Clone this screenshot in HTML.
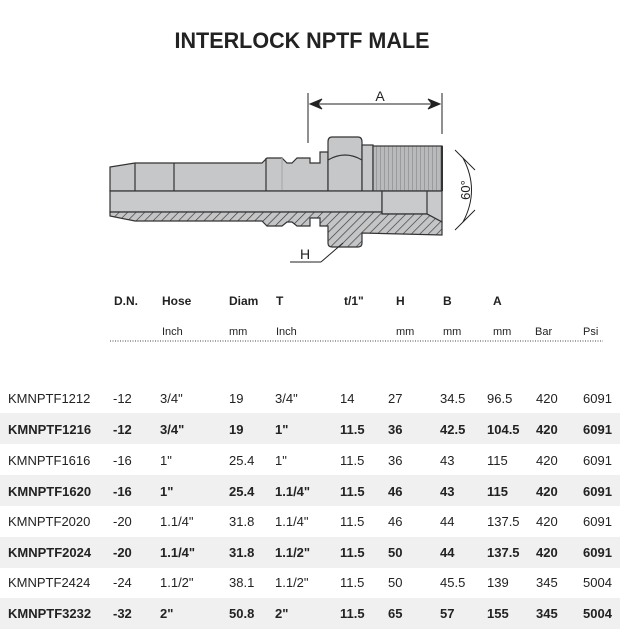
<!DOCTYPE html>
<html><head><meta charset="utf-8"><style>
html,body{margin:0;padding:0;background:#fff;}
svg{display:block;}
text{font-family:"Liberation Sans",sans-serif;fill:#222;}
</style></head><body>
<svg width="640" height="640" viewBox="0 0 640 640" xmlns="http://www.w3.org/2000/svg">
<defs>
<pattern id="hatch" patternUnits="userSpaceOnUse" width="6" height="6" patternTransform="rotate(45)">
<rect width="6" height="6" fill="#c4c5c7"/><line x1="0" y1="0" x2="0" y2="6" stroke="#333" stroke-width="1.3"/>
</pattern>
<pattern id="thr" patternUnits="userSpaceOnUse" width="4" height="10">
<rect width="4" height="10" fill="#b9babc"/><line x1="0.5" y1="0" x2="0.5" y2="10" stroke="#9a9b9d" stroke-width="1"/>
</pattern>
</defs>
<text x="302" y="48" font-size="22" font-weight="bold" text-anchor="middle" textLength="255" lengthAdjust="spacingAndGlyphs">INTERLOCK NPTF MALE</text>

<!-- drawing -->
<g stroke="#333" stroke-width="1.2">
<!-- upper body -->
<path d="M110,167 L135,163 L262,163 L267,158 L282,158 L287,163 L292,163 L297,158 L310,158 L310,163 L320,163 L320,152 L328,152 L328,191 L110,191 Z" fill="#c6c7c9"/>
<line x1="135" y1="163" x2="135" y2="191"/>
<line x1="174" y1="163" x2="174" y2="191"/>
<line x1="266" y1="158" x2="266" y2="191"/>
<line x1="282" y1="158" x2="282" y2="191" stroke="#aaa"/>
<!-- hex -->
<path d="M332,137 L358,137 Q362,137 362,142 L362,191 L328,191 L328,142 Q328,137 332,137 Z" fill="#c6c7c9"/>
<path d="M328,160 Q345,150 362,160" fill="none"/>
<!-- thread -->
<rect x="362" y="145" width="11" height="46" fill="#c6c7c9"/>
<rect x="373" y="146" width="69" height="45" fill="url(#thr)"/>
<line x1="442" y1="146" x2="442" y2="191" stroke-width="2"/>
<!-- bore -->
<rect x="110" y="191" width="272" height="21" fill="#c9cacc"/>
<path d="M382,191 L442,191 L442,222 L427,214 L382,214 Z" fill="#c9cacc"/>
<line x1="427" y1="191" x2="427" y2="214"/>
<!-- hatched section -->
<path d="M110,212 L382,212 L382,214 L427,214 L442,222 L442,235 L362,233 L362,243 Q362,247 358,247 L332,247 Q328,247 328,243 L328,226 L320,226 L320,218 L310,218 L310,226 L297,226 L292,222 L287,222 L282,226 L267,226 L262,221 L135,221 L110,216 Z" fill="url(#hatch)"/>
</g>
<!-- dimension A -->
<g stroke="#222" stroke-width="1">
<line x1="308" y1="93" x2="308" y2="143"/>
<line x1="442" y1="93" x2="442" y2="134"/>
<line x1="310" y1="104" x2="440" y2="104"/>
<path d="M310,104 L322,99 L318,104 L322,109 Z" fill="#222"/>
<path d="M440,104 L428,99 L432,104 L428,109 Z" fill="#222"/>
<path d="M463,158 Q480,190 463,222" fill="none"/>
<line x1="455" y1="150" x2="475" y2="170"/>
<line x1="455" y1="230" x2="475" y2="210"/>
<line x1="343" y1="243" x2="321" y2="262"/>
<line x1="321" y1="262" x2="290" y2="262"/>
</g>
<text x="380" y="101" font-size="14" text-anchor="middle">A</text>
<text x="305" y="259" font-size="14" text-anchor="middle">H</text>
<text transform="translate(470,190) rotate(-90)" font-size="13" text-anchor="middle">60°</text>

<!-- table -->
<rect x="0" y="413" width="620" height="31" fill="#f0f0f1"/>
<rect x="0" y="475" width="620" height="31" fill="#f0f0f1"/>
<rect x="0" y="537" width="620" height="31" fill="#f0f0f1"/>
<rect x="0" y="598" width="620" height="31" fill="#f0f0f1"/>
<line x1="110" y1="341" x2="603" y2="341" stroke="#444" stroke-width="1" stroke-dasharray="1,1.5"/>
<g font-size="12" font-weight="bold">
<text x="114" y="305">D.N.</text><text x="162" y="305">Hose</text><text x="229" y="305">Diam</text>
<text x="276" y="305">T</text><text x="344" y="305">t/1"</text><text x="396" y="305">H</text>
<text x="443" y="305">B</text><text x="493" y="305">A</text>
</g>
<g font-size="11">
<text x="162" y="335">Inch</text><text x="229" y="335">mm</text><text x="276" y="335">Inch</text>
<text x="396" y="335">mm</text><text x="443" y="335">mm</text><text x="493" y="335">mm</text>
<text x="535" y="335">Bar</text><text x="583" y="335">Psi</text>
</g>
<g font-size="13">
<g><text x="8" y="403">KMNPTF1212</text><text x="113" y="403">-12</text><text x="160" y="403">3/4"</text><text x="229" y="403">19</text><text x="275" y="403">3/4"</text><text x="340" y="403">14</text><text x="388" y="403">27</text><text x="440" y="403">34.5</text><text x="487" y="403">96.5</text><text x="536" y="403">420</text><text x="583" y="403">6091</text></g>
<g font-weight="bold"><text x="8" y="434">KMNPTF1216</text><text x="113" y="434">-12</text><text x="160" y="434">3/4"</text><text x="229" y="434">19</text><text x="275" y="434">1"</text><text x="340" y="434">11.5</text><text x="388" y="434">36</text><text x="440" y="434">42.5</text><text x="487" y="434">104.5</text><text x="536" y="434">420</text><text x="583" y="434">6091</text></g>
<g><text x="8" y="465">KMNPTF1616</text><text x="113" y="465">-16</text><text x="160" y="465">1"</text><text x="229" y="465">25.4</text><text x="275" y="465">1"</text><text x="340" y="465">11.5</text><text x="388" y="465">36</text><text x="440" y="465">43</text><text x="487" y="465">115</text><text x="536" y="465">420</text><text x="583" y="465">6091</text></g>
<g font-weight="bold"><text x="8" y="496">KMNPTF1620</text><text x="113" y="496">-16</text><text x="160" y="496">1"</text><text x="229" y="496">25.4</text><text x="275" y="496">1.1/4"</text><text x="340" y="496">11.5</text><text x="388" y="496">46</text><text x="440" y="496">43</text><text x="487" y="496">115</text><text x="536" y="496">420</text><text x="583" y="496">6091</text></g>
<g><text x="8" y="526">KMNPTF2020</text><text x="113" y="526">-20</text><text x="160" y="526">1.1/4"</text><text x="229" y="526">31.8</text><text x="275" y="526">1.1/4"</text><text x="340" y="526">11.5</text><text x="388" y="526">46</text><text x="440" y="526">44</text><text x="487" y="526">137.5</text><text x="536" y="526">420</text><text x="583" y="526">6091</text></g>
<g font-weight="bold"><text x="8" y="557">KMNPTF2024</text><text x="113" y="557">-20</text><text x="160" y="557">1.1/4"</text><text x="229" y="557">31.8</text><text x="275" y="557">1.1/2"</text><text x="340" y="557">11.5</text><text x="388" y="557">50</text><text x="440" y="557">44</text><text x="487" y="557">137.5</text><text x="536" y="557">420</text><text x="583" y="557">6091</text></g>
<g><text x="8" y="587">KMNPTF2424</text><text x="113" y="587">-24</text><text x="160" y="587">1.1/2"</text><text x="229" y="587">38.1</text><text x="275" y="587">1.1/2"</text><text x="340" y="587">11.5</text><text x="388" y="587">50</text><text x="440" y="587">45.5</text><text x="487" y="587">139</text><text x="536" y="587">345</text><text x="583" y="587">5004</text></g>
<g font-weight="bold"><text x="8" y="618">KMNPTF3232</text><text x="113" y="618">-32</text><text x="160" y="618">2"</text><text x="229" y="618">50.8</text><text x="275" y="618">2"</text><text x="340" y="618">11.5</text><text x="388" y="618">65</text><text x="440" y="618">57</text><text x="487" y="618">155</text><text x="536" y="618">345</text><text x="583" y="618">5004</text></g>
</g>
</svg>
</body></html>
